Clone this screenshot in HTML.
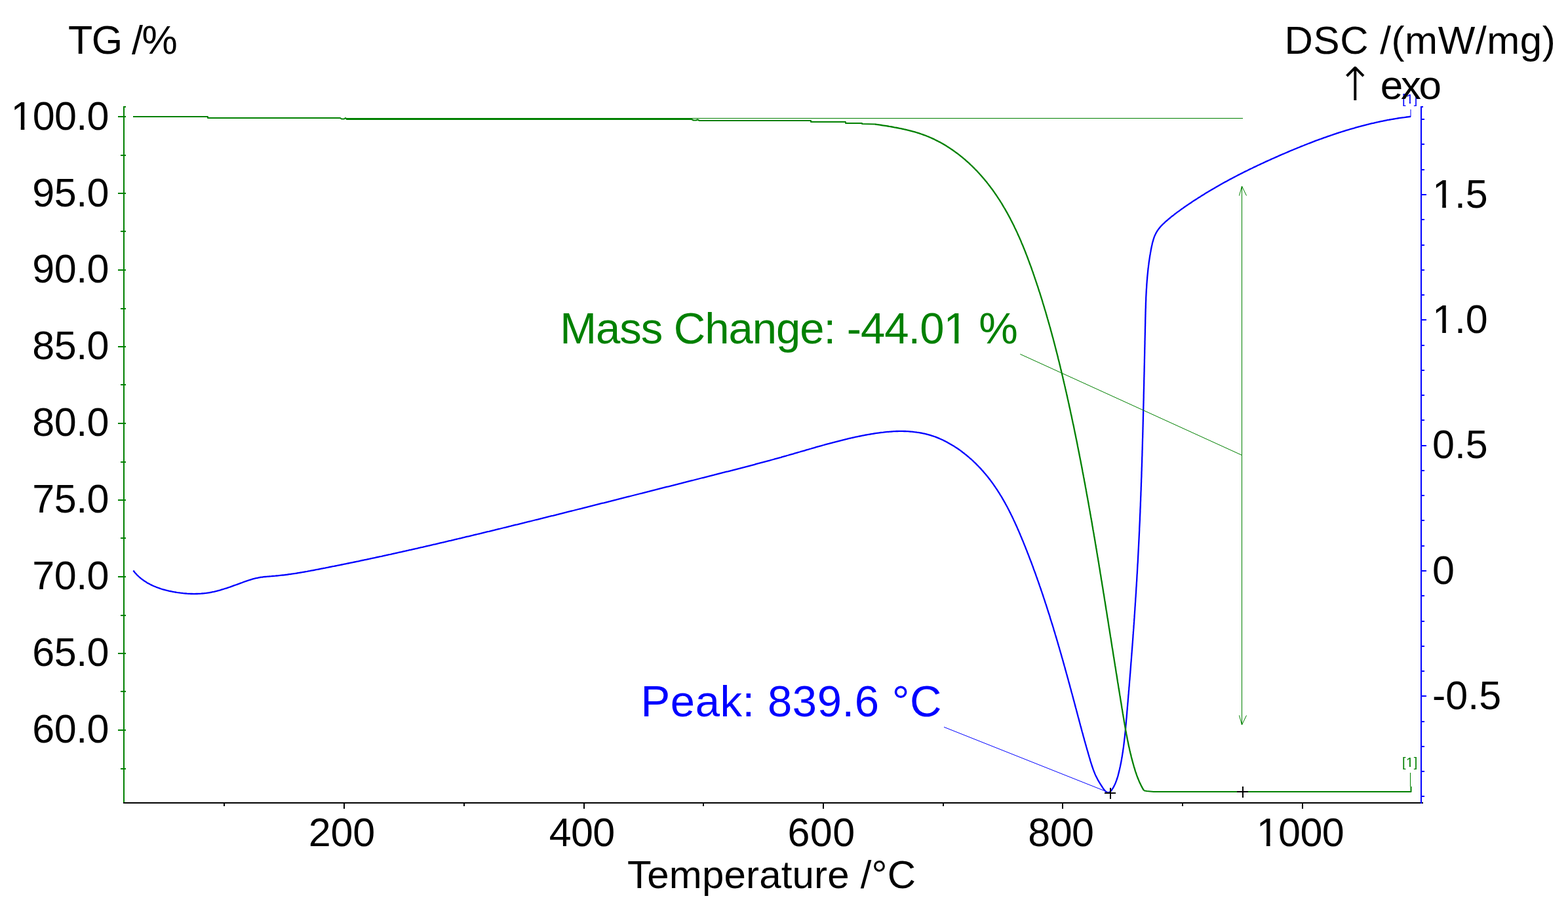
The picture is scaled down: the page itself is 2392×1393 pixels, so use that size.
<!DOCTYPE html>
<html><head><meta charset="utf-8"><title>TG-DSC</title>
<style>
html,body{margin:0;padding:0;background:#fff;width:2392px;height:1393px;overflow:hidden}
svg{display:block}
text{font-family:'Liberation Sans', Arial, sans-serif;}
</style></head><body>
<svg width="2392" height="1393" viewBox="0 0 2392 1393">
<rect width="2392" height="1393" fill="#fff"/>
<rect x="188" y="162" width="2" height="1064" fill="#008000"/>
<rect x="188" y="162" width="4" height="2" fill="#008000"/>
<rect x="180" y="177" width="12" height="2" fill="#008000"/>
<rect x="184" y="236" width="8" height="2" fill="#008000"/>
<rect x="180" y="294" width="12" height="2" fill="#008000"/>
<rect x="184" y="352" width="8" height="2" fill="#008000"/>
<rect x="180" y="411" width="12" height="2" fill="#008000"/>
<rect x="184" y="470" width="8" height="2" fill="#008000"/>
<rect x="180" y="528" width="12" height="2" fill="#008000"/>
<rect x="184" y="586" width="8" height="2" fill="#008000"/>
<rect x="180" y="645" width="12" height="2" fill="#008000"/>
<rect x="184" y="704" width="8" height="2" fill="#008000"/>
<rect x="180" y="762" width="12" height="2" fill="#008000"/>
<rect x="184" y="820" width="8" height="2" fill="#008000"/>
<rect x="180" y="879" width="12" height="2" fill="#008000"/>
<rect x="184" y="938" width="8" height="2" fill="#008000"/>
<rect x="180" y="996" width="12" height="2" fill="#008000"/>
<rect x="184" y="1054" width="8" height="2" fill="#008000"/>
<rect x="180" y="1113" width="12" height="2" fill="#008000"/>
<rect x="184" y="1172" width="8" height="2" fill="#008000"/>
<rect x="188" y="1224" width="1983" height="2" fill="#000"/>
<rect x="341" y="1226" width="2" height="4" fill="#000"/>
<rect x="524" y="1226" width="2" height="8" fill="#000"/>
<rect x="707" y="1226" width="2" height="4" fill="#000"/>
<rect x="890" y="1226" width="2" height="8" fill="#000"/>
<rect x="1072" y="1226" width="2" height="4" fill="#000"/>
<rect x="1255" y="1226" width="2" height="8" fill="#000"/>
<rect x="1438" y="1226" width="2" height="4" fill="#000"/>
<rect x="1620" y="1226" width="2" height="8" fill="#000"/>
<rect x="1803" y="1226" width="2" height="4" fill="#000"/>
<rect x="1986" y="1226" width="2" height="8" fill="#000"/>
<rect x="2167" y="162" width="2" height="1064" fill="#0000ff"/>
<rect x="2167" y="162" width="4" height="2" fill="#0000ff"/>
<rect x="2169" y="1214" width="4" height="2" fill="#0000ff"/>
<rect x="2169" y="1176" width="4" height="2" fill="#0000ff"/>
<rect x="2169" y="1138" width="4" height="2" fill="#0000ff"/>
<rect x="2169" y="1100" width="4" height="2" fill="#0000ff"/>
<rect x="2169" y="1061" width="7" height="2" fill="#0000ff"/>
<rect x="2169" y="1023" width="4" height="2" fill="#0000ff"/>
<rect x="2169" y="985" width="4" height="2" fill="#0000ff"/>
<rect x="2169" y="947" width="4" height="2" fill="#0000ff"/>
<rect x="2169" y="908" width="4" height="2" fill="#0000ff"/>
<rect x="2169" y="870" width="7" height="2" fill="#0000ff"/>
<rect x="2169" y="832" width="4" height="2" fill="#0000ff"/>
<rect x="2169" y="793" width="4" height="2" fill="#0000ff"/>
<rect x="2169" y="755" width="4" height="2" fill="#0000ff"/>
<rect x="2169" y="717" width="4" height="2" fill="#0000ff"/>
<rect x="2169" y="679" width="7" height="2" fill="#0000ff"/>
<rect x="2169" y="640" width="4" height="2" fill="#0000ff"/>
<rect x="2169" y="602" width="4" height="2" fill="#0000ff"/>
<rect x="2169" y="564" width="4" height="2" fill="#0000ff"/>
<rect x="2169" y="526" width="4" height="2" fill="#0000ff"/>
<rect x="2169" y="487" width="7" height="2" fill="#0000ff"/>
<rect x="2169" y="449" width="4" height="2" fill="#0000ff"/>
<rect x="2169" y="411" width="4" height="2" fill="#0000ff"/>
<rect x="2169" y="373" width="4" height="2" fill="#0000ff"/>
<rect x="2169" y="334" width="4" height="2" fill="#0000ff"/>
<rect x="2169" y="296" width="7" height="2" fill="#0000ff"/>
<rect x="2169" y="258" width="4" height="2" fill="#0000ff"/>
<rect x="2169" y="219" width="4" height="2" fill="#0000ff"/>
<rect x="2169" y="181" width="4" height="2" fill="#0000ff"/>
<polyline points="203.4,870.6 204.7,872.2 205.9,873.7 207.3,875.2 208.6,876.7 210.0,878.1 211.5,879.5 213.0,880.8 214.5,882.1 216.0,883.3 217.6,884.5 219.2,885.7 220.8,886.8 222.5,887.8 224.1,888.9 225.8,889.9 227.6,890.8 229.3,891.7 231.1,892.6 232.9,893.5 234.7,894.3 236.6,895.0 238.4,895.8 240.3,896.5 242.2,897.2 244.1,897.8 246.0,898.5 247.9,899.1 249.8,899.6 251.8,900.2 253.7,900.7 255.7,901.1 257.6,901.6 259.6,902.0 261.6,902.4 263.5,902.8 265.5,903.2 267.5,903.5 269.5,903.9 271.5,904.2 273.4,904.4 275.4,904.7 277.4,904.9 279.3,905.2 281.3,905.4 283.3,905.5 285.2,905.7 287.2,905.8 289.2,905.9 291.1,906.0 293.1,906.0 295.1,906.1 297.0,906.1 299.0,906.0 300.9,906.0 302.9,905.9 304.9,905.8 306.8,905.7 308.8,905.5 310.7,905.3 312.7,905.1 314.6,904.9 316.6,904.6 318.5,904.3 320.5,904.0 322.5,903.6 324.4,903.2 326.4,902.8 328.3,902.3 330.3,901.8 332.2,901.3 334.2,900.8 336.1,900.3 338.0,899.7 340.0,899.1 341.9,898.5 343.9,897.9 345.8,897.3 347.8,896.6 349.7,896.0 351.7,895.3 353.6,894.6 355.6,893.9 357.5,893.2 359.5,892.5 361.4,891.8 363.4,891.1 365.3,890.4 367.3,889.7 369.2,889.0 371.1,888.2 373.1,887.5 375.0,886.8 377.0,886.2 378.9,885.5 380.9,884.9 382.8,884.3 384.8,883.7 386.7,883.1 388.7,882.6 390.6,882.2 392.6,881.8 394.5,881.4 396.5,881.0 398.4,880.7 400.4,880.5 402.3,880.2 404.3,880.0 406.2,879.8 408.2,879.6 410.1,879.5 412.1,879.3 414.0,879.2 416.0,879.0 417.9,878.8 419.9,878.7 421.8,878.5 423.8,878.3 425.7,878.1 427.7,877.9 429.6,877.7 431.6,877.5 433.5,877.3 435.5,877.0 437.4,876.8 439.4,876.5 441.3,876.2 443.3,876.0 445.2,875.7 447.2,875.4 449.1,875.1 451.1,874.8 453.0,874.5 455.0,874.1 456.9,873.8 458.9,873.5 460.8,873.2 462.8,872.8 464.7,872.5 466.7,872.1 468.6,871.8 470.6,871.4 472.5,871.1 474.5,870.7 476.5,870.3 478.4,870.0 480.4,869.6 482.3,869.2 484.3,868.8 486.2,868.5 488.2,868.1 490.1,867.7 492.1,867.3 494.0,866.9 496.0,866.6 497.9,866.2 499.9,865.8 501.8,865.4 503.8,865.0 505.7,864.6 507.7,864.2 509.7,863.9 511.6,863.5 513.6,863.1 515.5,862.7 517.5,862.3 519.4,861.9 521.4,861.5 523.3,861.1 525.3,860.7 527.2,860.3 529.2,859.9 531.1,859.5 533.1,859.1 535.1,858.7 537.0,858.3 539.0,857.9 540.9,857.5 542.9,857.1 544.8,856.7 546.8,856.3 548.7,855.8 550.7,855.4 552.6,855.0 554.6,854.6 556.6,854.2 558.5,853.8 560.5,853.4 562.4,853.0 564.4,852.5 566.3,852.1 568.3,851.7 570.2,851.3 572.2,850.9 574.1,850.4 576.1,850.0 578.0,849.6 580.0,849.2 582.0,848.8 583.9,848.3 585.9,847.9 587.8,847.5 589.8,847.0 591.7,846.6 593.7,846.2 595.6,845.8 597.6,845.3 599.5,844.9 601.5,844.5 603.5,844.0 605.4,843.6 607.4,843.2 609.3,842.7 611.3,842.3 613.2,841.9 615.2,841.4 617.1,841.0 619.1,840.5 621.0,840.1 623.0,839.7 625.0,839.2 626.9,838.8 628.9,838.3 630.8,837.9 632.8,837.5 634.7,837.0 636.7,836.6 638.6,836.1 640.6,835.7 642.5,835.2 644.5,834.8 646.4,834.3 648.4,833.9 650.4,833.4 652.3,833.0 654.3,832.5 656.2,832.1 658.2,831.6 660.1,831.2 662.1,830.7 664.0,830.3 666.0,829.8 667.9,829.4 669.9,828.9 671.8,828.4 673.8,828.0 675.8,827.5 677.7,827.1 679.7,826.6 681.6,826.2 683.6,825.7 685.5,825.2 687.5,824.8 689.4,824.3 691.4,823.9 693.3,823.4 695.3,822.9 697.2,822.5 699.2,822.0 701.1,821.5 703.1,821.1 705.0,820.6 707.0,820.1 708.9,819.7 710.9,819.2 712.8,818.7 714.8,818.3 716.8,817.8 718.7,817.3 720.7,816.9 722.6,816.4 724.6,815.9 726.5,815.5 728.5,815.0 730.4,814.5 732.4,814.1 734.3,813.6 736.3,813.1 738.2,812.6 740.2,812.2 742.1,811.7 744.1,811.2 746.0,810.8 748.0,810.3 749.9,809.8 751.9,809.3 753.8,808.9 755.8,808.4 757.7,807.9 759.7,807.4 761.6,807.0 763.6,806.5 765.5,806.0 767.5,805.5 769.4,805.0 771.4,804.6 773.3,804.1 775.3,803.6 777.2,803.1 779.2,802.7 781.1,802.2 783.0,801.7 785.0,801.2 786.9,800.7 788.9,800.3 790.8,799.8 792.8,799.3 794.7,798.8 796.7,798.3 798.6,797.9 800.6,797.4 802.5,796.9 804.5,796.4 806.4,795.9 808.4,795.5 810.3,795.0 812.3,794.5 814.2,794.0 816.1,793.5 818.1,793.0 820.0,792.6 822.0,792.1 823.9,791.6 825.9,791.1 827.8,790.6 829.8,790.1 831.7,789.7 833.6,789.2 835.6,788.7 837.5,788.2 839.5,787.7 841.4,787.2 843.4,786.8 845.3,786.3 847.3,785.8 849.2,785.3 851.1,784.8 853.1,784.3 855.0,783.8 857.0,783.4 858.9,782.9 860.9,782.4 862.8,781.9 864.7,781.4 866.7,780.9 868.6,780.4 870.6,779.9 872.5,779.5 874.5,779.0 876.4,778.5 878.3,778.0 880.3,777.5 882.2,777.0 884.2,776.5 886.1,776.1 888.0,775.6 890.0,775.1 891.9,774.6 893.9,774.1 895.8,773.6 897.7,773.1 899.7,772.6 901.6,772.1 903.6,771.7 905.5,771.2 907.4,770.7 909.4,770.2 911.3,769.7 913.3,769.2 915.2,768.7 917.1,768.2 919.1,767.7 921.0,767.3 923.0,766.8 924.9,766.3 926.8,765.8 928.8,765.3 930.7,764.8 932.7,764.3 934.6,763.8 936.5,763.3 938.5,762.8 940.4,762.4 942.3,761.9 944.3,761.4 946.2,760.9 948.2,760.4 950.1,759.9 952.0,759.4 954.0,758.9 955.9,758.4 957.8,757.9 959.8,757.5 961.7,757.0 963.6,756.5 965.6,756.0 967.5,755.5 969.5,755.0 971.4,754.5 973.3,754.0 975.3,753.5 977.2,753.0 979.1,752.6 981.1,752.1 983.0,751.6 984.9,751.1 986.9,750.6 988.8,750.1 990.7,749.6 992.7,749.1 994.6,748.6 996.5,748.1 998.5,747.6 1000.4,747.2 1002.3,746.7 1004.3,746.2 1006.2,745.7 1008.1,745.2 1010.1,744.7 1012.0,744.2 1013.9,743.7 1015.9,743.2 1017.8,742.7 1019.7,742.3 1021.7,741.8 1023.6,741.3 1025.5,740.8 1027.5,740.3 1029.4,739.8 1031.3,739.3 1033.3,738.8 1035.2,738.3 1037.1,737.8 1039.1,737.4 1041.0,736.9 1042.9,736.4 1044.9,735.9 1046.8,735.4 1048.7,734.9 1050.6,734.4 1052.6,733.9 1054.5,733.4 1056.4,733.0 1058.4,732.5 1060.3,732.0 1062.2,731.5 1064.2,731.0 1066.1,730.5 1068.0,730.0 1069.9,729.5 1071.9,729.0 1073.8,728.6 1075.7,728.1 1077.7,727.6 1079.6,727.1 1081.5,726.6 1083.4,726.1 1085.4,725.6 1087.3,725.1 1089.2,724.7 1091.2,724.2 1093.1,723.7 1095.0,723.2 1096.9,722.7 1098.9,722.2 1100.8,721.7 1102.7,721.2 1104.7,720.7 1106.6,720.2 1108.5,719.7 1110.4,719.3 1112.4,718.8 1114.3,718.3 1116.2,717.8 1118.1,717.3 1120.1,716.8 1122.0,716.3 1123.9,715.8 1125.8,715.3 1127.8,714.8 1129.7,714.3 1131.6,713.8 1133.6,713.3 1135.5,712.8 1137.4,712.3 1139.3,711.8 1141.3,711.3 1143.2,710.8 1145.1,710.3 1147.0,709.8 1149.0,709.3 1150.9,708.8 1152.8,708.2 1154.7,707.7 1156.7,707.2 1158.6,706.7 1160.5,706.2 1162.4,705.7 1164.3,705.2 1166.3,704.6 1168.2,704.1 1170.1,703.6 1172.0,703.1 1174.0,702.6 1175.9,702.0 1177.8,701.5 1179.7,701.0 1181.7,700.4 1183.6,699.9 1185.5,699.4 1187.4,698.8 1189.3,698.3 1191.3,697.8 1193.2,697.2 1195.1,696.7 1197.0,696.1 1199.0,695.6 1200.9,695.0 1202.8,694.5 1204.7,693.9 1206.6,693.4 1208.6,692.8 1210.5,692.3 1212.4,691.7 1214.3,691.2 1216.3,690.6 1218.2,690.0 1220.1,689.5 1222.0,688.9 1223.9,688.4 1225.9,687.8 1227.8,687.3 1229.7,686.7 1231.6,686.1 1233.6,685.6 1235.5,685.0 1237.4,684.5 1239.3,683.9 1241.3,683.4 1243.2,682.8 1245.1,682.2 1247.1,681.7 1249.0,681.2 1250.9,680.6 1252.9,680.1 1254.8,679.5 1256.7,679.0 1258.7,678.4 1260.6,677.9 1262.5,677.4 1264.5,676.9 1266.4,676.3 1268.4,675.8 1270.3,675.3 1272.2,674.8 1274.2,674.3 1276.1,673.8 1278.1,673.3 1280.0,672.8 1282.0,672.3 1283.9,671.8 1285.9,671.3 1287.9,670.8 1289.8,670.3 1291.8,669.9 1293.7,669.4 1295.7,668.9 1297.7,668.5 1299.6,668.0 1301.6,667.6 1303.6,667.2 1305.5,666.7 1307.5,666.3 1309.5,665.9 1311.5,665.5 1313.5,665.1 1315.4,664.7 1317.4,664.3 1319.4,663.9 1321.4,663.5 1323.4,663.2 1325.4,662.8 1327.4,662.5 1329.4,662.1 1331.4,661.8 1333.4,661.5 1335.4,661.2 1337.4,660.9 1339.4,660.6 1341.4,660.3 1343.4,660.0 1345.4,659.8 1347.4,659.6 1349.4,659.3 1351.4,659.1 1353.4,658.9 1355.4,658.8 1357.4,658.6 1359.3,658.5 1361.3,658.3 1363.3,658.2 1365.3,658.1 1367.3,658.0 1369.3,658.0 1371.3,657.9 1373.3,657.9 1375.2,657.9 1377.2,657.9 1379.2,658.0 1381.2,658.0 1383.1,658.1 1385.1,658.2 1387.1,658.3 1389.0,658.5 1391.0,658.6 1392.9,658.8 1394.9,659.1 1396.8,659.3 1398.8,659.6 1400.7,659.8 1402.6,660.2 1404.5,660.5 1406.5,660.9 1408.4,661.3 1410.3,661.7 1412.2,662.1 1414.1,662.6 1416.0,663.1 1417.8,663.6 1419.7,664.2 1421.6,664.8 1423.4,665.4 1425.3,666.0 1427.2,666.7 1429.0,667.4 1430.8,668.1 1432.7,668.9 1434.5,669.7 1436.3,670.5 1438.1,671.3 1439.9,672.2 1441.7,673.1 1443.4,674.0 1445.2,674.9 1447.0,675.9 1448.7,676.9 1450.5,677.9 1452.2,678.9 1453.9,679.9 1455.6,681.0 1457.3,682.1 1459.0,683.2 1460.7,684.3 1462.4,685.5 1464.0,686.6 1465.7,687.8 1467.3,689.0 1468.9,690.3 1470.5,691.5 1472.1,692.8 1473.7,694.0 1475.3,695.3 1476.8,696.6 1478.4,698.0 1479.9,699.3 1481.5,700.7 1483.0,702.0 1484.5,703.4 1485.9,704.8 1487.4,706.2 1488.9,707.6 1490.3,709.1 1491.7,710.5 1493.1,712.0 1494.5,713.4 1495.9,714.9 1497.3,716.4 1498.6,717.9 1500.0,719.4 1501.3,720.9 1502.6,722.5 1503.9,724.0 1505.1,725.6 1506.4,727.1 1507.7,728.7 1508.9,730.2 1510.1,731.8 1511.3,733.4 1512.5,735.0 1513.7,736.6 1514.8,738.2 1516.0,739.9 1517.1,741.5 1518.3,743.1 1519.4,744.8 1520.5,746.4 1521.6,748.1 1522.7,749.8 1523.7,751.4 1524.8,753.1 1525.8,754.8 1526.9,756.5 1527.9,758.2 1528.9,759.9 1529.9,761.6 1530.9,763.4 1531.9,765.1 1532.9,766.8 1533.8,768.6 1534.8,770.3 1535.7,772.0 1536.7,773.8 1537.6,775.6 1538.5,777.3 1539.4,779.1 1540.3,780.9 1541.2,782.6 1542.1,784.4 1543.0,786.2 1543.9,788.0 1544.7,789.8 1545.6,791.6 1546.4,793.4 1547.3,795.2 1548.1,797.0 1548.9,798.8 1549.8,800.7 1550.6,802.5 1551.4,804.3 1552.2,806.1 1553.0,808.0 1553.8,809.8 1554.6,811.6 1555.4,813.5 1556.2,815.3 1556.9,817.2 1557.7,819.0 1558.5,820.8 1559.2,822.7 1560.0,824.5 1560.8,826.4 1561.5,828.2 1562.3,830.1 1563.0,832.0 1563.8,833.8 1564.5,835.7 1565.2,837.5 1566.0,839.4 1566.7,841.2 1567.4,843.1 1568.2,845.0 1568.9,846.8 1569.6,848.7 1570.3,850.6 1571.0,852.4 1571.7,854.3 1572.5,856.2 1573.2,858.0 1573.9,859.9 1574.6,861.8 1575.3,863.6 1576.0,865.5 1576.6,867.4 1577.3,869.3 1578.0,871.2 1578.7,873.0 1579.4,874.9 1580.1,876.8 1580.7,878.7 1581.4,880.6 1582.1,882.4 1582.7,884.3 1583.4,886.2 1584.1,888.1 1584.7,890.0 1585.4,891.9 1586.0,893.8 1586.7,895.6 1587.3,897.5 1588.0,899.4 1588.6,901.3 1589.3,903.2 1589.9,905.1 1590.6,907.0 1591.2,908.9 1591.8,910.8 1592.4,912.7 1593.1,914.6 1593.7,916.5 1594.3,918.4 1594.9,920.3 1595.6,922.2 1596.2,924.1 1596.8,926.0 1597.4,927.9 1598.0,929.8 1598.6,931.7 1599.2,933.6 1599.8,935.5 1600.5,937.4 1601.1,939.3 1601.7,941.2 1602.2,943.1 1602.8,945.1 1603.4,947.0 1604.0,948.9 1604.6,950.8 1605.2,952.7 1605.8,954.6 1606.4,956.5 1607.0,958.4 1607.5,960.3 1608.1,962.3 1608.7,964.2 1609.3,966.1 1609.8,968.0 1610.4,969.9 1611.0,971.8 1611.6,973.8 1612.1,975.7 1612.7,977.6 1613.3,979.5 1613.8,981.4 1614.4,983.4 1614.9,985.3 1615.5,987.2 1616.1,989.1 1616.6,991.0 1617.2,993.0 1617.7,994.9 1618.3,996.8 1618.8,998.7 1619.4,1000.7 1619.9,1002.6 1620.5,1004.5 1621.0,1006.4 1621.6,1008.4 1622.1,1010.3 1622.6,1012.2 1623.2,1014.1 1623.7,1016.1 1624.3,1018.0 1624.8,1019.9 1625.3,1021.9 1625.9,1023.8 1626.4,1025.7 1626.9,1027.6 1627.5,1029.6 1628.0,1031.5 1628.5,1033.4 1629.1,1035.4 1629.6,1037.3 1630.1,1039.2 1630.6,1041.2 1631.2,1043.1 1631.7,1045.0 1632.2,1046.9 1632.7,1048.9 1633.3,1050.8 1633.8,1052.7 1634.3,1054.7 1634.8,1056.6 1635.4,1058.5 1635.9,1060.5 1636.4,1062.4 1636.9,1064.3 1637.4,1066.3 1637.9,1068.2 1638.5,1070.1 1639.0,1072.1 1639.5,1074.0 1640.0,1075.9 1640.5,1077.9 1641.0,1079.8 1641.6,1081.7 1642.1,1083.7 1642.6,1085.6 1643.1,1087.5 1643.6,1089.5 1644.1,1091.4 1644.6,1093.3 1645.2,1095.3 1645.7,1097.2 1646.2,1099.1 1646.7,1101.1 1647.2,1103.0 1647.7,1104.9 1648.2,1106.8 1648.8,1108.8 1649.3,1110.7 1649.8,1112.6 1650.3,1114.6 1650.8,1116.5 1651.4,1118.4 1651.9,1120.3 1652.4,1122.3 1652.9,1124.2 1653.5,1126.1 1654.0,1128.0 1654.5,1130.0 1655.1,1131.9 1655.6,1133.8 1656.1,1135.7 1656.7,1137.6 1657.2,1139.5 1657.8,1141.5 1658.3,1143.4 1658.9,1145.3 1659.4,1147.2 1660.0,1149.1 1660.5,1151.0 1661.1,1152.9 1661.6,1154.8 1662.2,1156.7 1662.8,1158.6 1663.3,1160.6 1663.9,1162.5 1664.5,1164.3 1665.1,1166.2 1665.7,1168.1 1666.3,1170.0 1667.0,1171.9 1667.6,1173.7 1668.3,1175.6 1669.0,1177.4 1669.8,1179.3 1670.5,1181.1 1671.3,1182.9 1672.2,1184.7 1673.1,1186.5 1674.0,1188.3 1674.9,1190.1 1676.0,1191.9 1677.0,1193.7 1678.2,1195.6 1679.5,1197.6 1680.8,1199.7 1682.2,1201.9 1683.7,1204.0 1685.3,1206.0 1686.8,1207.6 1688.3,1208.8 1689.8,1209.3 1691.1,1209.3 1692.4,1208.8 1693.7,1207.9 1694.9,1206.7 1696.0,1205.2 1697.0,1203.7 1698.0,1202.1 1699.0,1200.4 1699.8,1198.7 1700.7,1196.9 1701.5,1195.1 1702.2,1193.3 1703.0,1191.4 1703.6,1189.5 1704.3,1187.5 1704.9,1185.6 1705.5,1183.6 1706.0,1181.6 1706.5,1179.6 1707.0,1177.6 1707.5,1175.5 1708.0,1173.5 1708.4,1171.5 1708.9,1169.4 1709.3,1167.4 1709.7,1165.4 1710.1,1163.4 1710.5,1161.4 1710.9,1159.3 1711.2,1157.3 1711.6,1155.3 1711.9,1153.3 1712.2,1151.3 1712.5,1149.3 1712.9,1147.3 1713.1,1145.3 1713.4,1143.3 1713.7,1141.3 1714.0,1139.3 1714.2,1137.3 1714.5,1135.3 1714.7,1133.3 1715.0,1131.3 1715.2,1129.3 1715.4,1127.3 1715.7,1125.3 1715.9,1123.4 1716.1,1121.4 1716.3,1119.4 1716.5,1117.4 1716.7,1115.4 1716.9,1113.4 1717.1,1111.4 1717.3,1109.5 1717.4,1107.5 1717.6,1105.5 1717.8,1103.5 1718.0,1101.5 1718.1,1099.5 1718.3,1097.6 1718.5,1095.6 1718.7,1093.6 1718.8,1091.6 1719.0,1089.6 1719.2,1087.6 1719.3,1085.7 1719.5,1083.7 1719.7,1081.7 1719.8,1079.7 1720.0,1077.7 1720.2,1075.7 1720.3,1073.8 1720.5,1071.8 1720.7,1069.8 1720.8,1067.8 1721.0,1065.8 1721.2,1063.8 1721.3,1061.8 1721.5,1059.9 1721.7,1057.9 1721.8,1055.9 1722.0,1053.9 1722.2,1051.9 1722.3,1049.9 1722.5,1047.9 1722.7,1046.0 1722.8,1044.0 1723.0,1042.0 1723.1,1040.0 1723.3,1038.0 1723.5,1036.0 1723.6,1034.0 1723.8,1032.0 1723.9,1030.1 1724.1,1028.1 1724.3,1026.1 1724.4,1024.1 1724.6,1022.1 1724.7,1020.1 1724.9,1018.1 1725.0,1016.1 1725.2,1014.1 1725.3,1012.2 1725.5,1010.2 1725.7,1008.2 1725.8,1006.2 1726.0,1004.2 1726.1,1002.2 1726.3,1000.2 1726.4,998.2 1726.6,996.2 1726.7,994.2 1726.9,992.2 1727.0,990.3 1727.2,988.3 1727.3,986.3 1727.5,984.3 1727.6,982.3 1727.8,980.3 1727.9,978.3 1728.1,976.3 1728.2,974.3 1728.4,972.3 1728.5,970.3 1728.6,968.3 1728.8,966.4 1728.9,964.4 1729.1,962.4 1729.2,960.4 1729.4,958.4 1729.5,956.4 1729.6,954.4 1729.8,952.4 1729.9,950.4 1730.1,948.4 1730.2,946.4 1730.3,944.4 1730.5,942.4 1730.6,940.4 1730.7,938.4 1730.9,936.5 1731.0,934.5 1731.1,932.5 1731.3,930.5 1731.4,928.5 1731.5,926.5 1731.7,924.5 1731.8,922.5 1731.9,920.5 1732.1,918.5 1732.2,916.5 1732.3,914.5 1732.4,912.5 1732.6,910.5 1732.7,908.5 1732.8,906.5 1733.0,904.5 1733.1,902.5 1733.2,900.5 1733.3,898.5 1733.4,896.5 1733.6,894.5 1733.7,892.6 1733.8,890.6 1733.9,888.6 1734.1,886.6 1734.2,884.6 1734.3,882.6 1734.4,880.6 1734.5,878.6 1734.6,876.6 1734.8,874.6 1734.9,872.6 1735.0,870.6 1735.1,868.6 1735.2,866.6 1735.3,864.6 1735.4,862.6 1735.5,860.6 1735.7,858.6 1735.8,856.6 1735.9,854.6 1736.0,852.6 1736.1,850.6 1736.2,848.6 1736.3,846.6 1736.4,844.6 1736.5,842.6 1736.6,840.6 1736.7,838.6 1736.8,836.6 1736.9,834.6 1737.0,832.6 1737.1,830.6 1737.2,828.6 1737.3,826.6 1737.4,824.6 1737.5,822.6 1737.6,820.6 1737.7,818.6 1737.8,816.6 1737.9,814.6 1738.0,812.6 1738.1,810.6 1738.2,808.6 1738.2,806.6 1738.3,804.6 1738.4,802.6 1738.5,800.6 1738.6,798.6 1738.7,796.6 1738.8,794.6 1738.9,792.6 1738.9,790.6 1739.0,788.6 1739.1,786.6 1739.2,784.6 1739.3,782.6 1739.4,780.7 1739.4,778.7 1739.5,776.7 1739.6,774.7 1739.7,772.7 1739.8,770.7 1739.8,768.7 1739.9,766.7 1740.0,764.7 1740.1,762.7 1740.1,760.7 1740.2,758.7 1740.3,756.7 1740.4,754.7 1740.4,752.7 1740.5,750.7 1740.6,748.7 1740.7,746.7 1740.7,744.7 1740.8,742.7 1740.9,740.7 1740.9,738.7 1741.0,736.7 1741.1,734.7 1741.1,732.7 1741.2,730.7 1741.3,728.7 1741.4,726.7 1741.4,724.7 1741.5,722.7 1741.5,720.7 1741.6,718.7 1741.7,716.7 1741.7,714.7 1741.8,712.7 1741.9,710.7 1741.9,708.7 1742.0,706.7 1742.1,704.7 1742.1,702.7 1742.2,700.7 1742.2,698.7 1742.3,696.7 1742.4,694.7 1742.4,692.7 1742.5,690.7 1742.5,688.7 1742.6,686.7 1742.7,684.7 1742.7,682.7 1742.8,680.7 1742.8,678.7 1742.9,676.7 1742.9,674.7 1743.0,672.7 1743.0,670.7 1743.1,668.7 1743.2,666.7 1743.2,664.7 1743.3,662.7 1743.3,660.7 1743.4,658.7 1743.4,656.7 1743.5,654.7 1743.5,652.7 1743.6,650.7 1743.6,648.7 1743.7,646.7 1743.7,644.7 1743.8,642.7 1743.8,640.7 1743.9,638.7 1743.9,636.7 1744.0,634.7 1744.0,632.7 1744.1,630.7 1744.1,628.7 1744.2,626.7 1744.2,624.7 1744.3,622.7 1744.3,620.7 1744.4,618.7 1744.4,616.7 1744.5,614.7 1744.5,612.7 1744.6,610.7 1744.6,608.7 1744.7,606.7 1744.7,604.7 1744.7,602.7 1744.8,600.7 1744.8,598.7 1744.9,596.7 1744.9,594.7 1745.0,592.7 1745.0,590.7 1745.1,588.7 1745.1,586.7 1745.2,584.7 1745.2,582.7 1745.2,580.7 1745.3,578.7 1745.3,576.7 1745.4,574.7 1745.4,572.7 1745.5,570.7 1745.5,568.7 1745.6,566.7 1745.6,564.7 1745.6,562.7 1745.7,560.7 1745.7,558.7 1745.8,556.7 1745.8,554.7 1745.9,552.7 1745.9,550.7 1745.9,548.8 1746.0,546.8 1746.0,544.8 1746.1,542.8 1746.1,540.8 1746.2,538.8 1746.2,536.8 1746.2,534.8 1746.3,532.8 1746.3,530.8 1746.4,528.8 1746.4,526.8 1746.5,524.8 1746.5,522.8 1746.5,520.8 1746.6,518.8 1746.6,516.8 1746.7,514.8 1746.7,512.8 1746.8,510.8 1746.8,508.8 1746.9,506.8 1746.9,504.9 1746.9,502.9 1747.0,500.9 1747.0,498.9 1747.1,496.9 1747.1,494.9 1747.2,492.9 1747.2,490.9 1747.2,488.9 1747.3,486.9 1747.3,484.9 1747.4,482.9 1747.4,480.9 1747.5,478.9 1747.5,476.9 1747.6,474.9 1747.6,473.0 1747.7,471.0 1747.8,469.0 1747.8,467.0 1747.9,465.0 1747.9,463.0 1748.0,461.0 1748.1,459.0 1748.2,457.0 1748.2,455.0 1748.3,453.0 1748.4,451.0 1748.5,449.0 1748.6,447.1 1748.7,445.1 1748.8,443.1 1748.9,441.1 1749.1,439.1 1749.2,437.1 1749.3,435.1 1749.4,433.1 1749.6,431.1 1749.7,429.1 1749.9,427.1 1750.1,425.1 1750.2,423.1 1750.4,421.1 1750.6,419.1 1750.8,417.2 1751.0,415.2 1751.2,413.2 1751.4,411.2 1751.6,409.2 1751.9,407.2 1752.1,405.2 1752.4,403.2 1752.6,401.2 1752.9,399.2 1753.2,397.2 1753.5,395.2 1753.8,393.2 1754.1,391.2 1754.4,389.2 1754.8,387.2 1755.1,385.2 1755.5,383.2 1755.8,381.2 1756.2,379.2 1756.6,377.2 1757.0,375.3 1757.5,373.3 1757.9,371.3 1758.4,369.3 1759.0,367.4 1759.5,365.5 1760.1,363.6 1760.8,361.7 1761.5,359.9 1762.3,358.1 1763.1,356.4 1764.1,354.7 1765.0,353.0 1766.1,351.4 1767.2,349.8 1768.4,348.3 1769.6,346.8 1770.9,345.3 1772.2,343.9 1773.6,342.5 1775.0,341.1 1776.5,339.8 1777.9,338.4 1779.4,337.1 1780.9,335.8 1782.4,334.5 1783.9,333.3 1785.5,332.0 1787.0,330.7 1788.6,329.5 1790.2,328.3 1791.7,327.0 1793.3,325.8 1794.9,324.6 1796.5,323.4 1798.2,322.3 1799.8,321.1 1801.4,319.9 1803.0,318.7 1804.7,317.6 1806.3,316.4 1807.9,315.3 1809.6,314.1 1811.2,313.0 1812.9,311.9 1814.5,310.8 1816.2,309.7 1817.9,308.5 1819.5,307.4 1821.2,306.3 1822.9,305.2 1824.5,304.2 1826.2,303.1 1827.9,302.0 1829.6,300.9 1831.3,299.9 1833.0,298.8 1834.7,297.7 1836.4,296.7 1838.1,295.6 1839.8,294.6 1841.5,293.6 1843.2,292.5 1844.9,291.5 1846.6,290.5 1848.3,289.5 1850.0,288.5 1851.8,287.5 1853.5,286.5 1855.2,285.5 1856.9,284.5 1858.7,283.5 1860.4,282.5 1862.1,281.5 1863.9,280.5 1865.6,279.6 1867.4,278.6 1869.1,277.6 1870.9,276.7 1872.6,275.7 1874.4,274.8 1876.1,273.8 1877.9,272.9 1879.6,272.0 1881.4,271.0 1883.2,270.1 1884.9,269.2 1886.7,268.3 1888.5,267.3 1890.3,266.4 1892.0,265.5 1893.8,264.6 1895.6,263.7 1897.4,262.8 1899.2,261.9 1901.0,261.0 1902.8,260.2 1904.5,259.3 1906.3,258.4 1908.1,257.5 1909.9,256.7 1911.7,255.8 1913.5,254.9 1915.3,254.1 1917.1,253.2 1918.9,252.3 1920.8,251.5 1922.6,250.6 1924.4,249.8 1926.2,249.0 1928.0,248.1 1929.8,247.3 1931.6,246.4 1933.5,245.6 1935.3,244.8 1937.1,244.0 1938.9,243.1 1940.7,242.3 1942.6,241.5 1944.4,240.7 1946.2,239.9 1948.1,239.1 1949.9,238.3 1951.7,237.4 1953.6,236.6 1955.4,235.8 1957.2,235.0 1959.1,234.3 1960.9,233.5 1962.8,232.7 1964.6,231.9 1966.4,231.1 1968.3,230.3 1970.1,229.5 1972.0,228.8 1973.8,228.0 1975.7,227.2 1977.5,226.5 1979.4,225.7 1981.3,225.0 1983.1,224.2 1985.0,223.4 1986.8,222.7 1988.7,222.0 1990.5,221.2 1992.4,220.5 1994.3,219.7 1996.1,219.0 1998.0,218.3 1999.9,217.6 2001.7,216.9 2003.6,216.1 2005.5,215.4 2007.4,214.7 2009.2,214.0 2011.1,213.3 2013.0,212.6 2014.9,212.0 2016.8,211.3 2018.6,210.6 2020.5,209.9 2022.4,209.3 2024.3,208.6 2026.2,207.9 2028.1,207.3 2030.0,206.6 2031.9,206.0 2033.8,205.3 2035.7,204.7 2037.6,204.1 2039.4,203.4 2041.3,202.8 2043.3,202.2 2045.2,201.6 2047.1,201.0 2049.0,200.4 2050.9,199.8 2052.8,199.2 2054.7,198.6 2056.6,198.1 2058.5,197.5 2060.4,196.9 2062.4,196.4 2064.3,195.8 2066.2,195.3 2068.1,194.7 2070.0,194.2 2072.0,193.6 2073.9,193.1 2075.8,192.6 2077.7,192.1 2079.7,191.6 2081.6,191.1 2083.5,190.6 2085.5,190.1 2087.4,189.6 2089.3,189.2 2091.3,188.7 2093.2,188.2 2095.2,187.8 2097.1,187.3 2099.1,186.9 2101.0,186.5 2103.0,186.0 2104.9,185.6 2106.9,185.2 2108.8,184.8 2110.8,184.4 2112.7,184.0 2114.7,183.6 2116.6,183.2 2118.6,182.9 2120.6,182.5 2122.5,182.2 2124.5,181.8 2126.5,181.5 2128.4,181.2 2130.4,180.8 2132.4,180.5 2134.4,180.2 2136.3,179.9 2138.3,179.6 2140.3,179.3 2142.3,179.1 2144.3,178.8 2146.2,178.5 2148.2,178.3 2150.2,178.0 2152.2,177.8" fill="none" stroke="#0000ff" stroke-width="2.3" stroke-linejoin="round"/>
<line x1="2152" y1="177.8" x2="2152" y2="167" stroke="#0000ff" stroke-width="1"/>
<line x1="1440.1" y1="1109.3" x2="1693.5" y2="1210" stroke="#0000ff" stroke-width="1"/>
<rect x="1685" y="1209" width="17" height="2" fill="#000"/>
<rect x="1693" y="1202" width="2" height="17" fill="#000"/>
<polyline points="203.0,178.0 317.0,178.0 317.0,180.0 519.0,180.0 521.0,181.5 525.0,181.5 527.0,180.0 529.0,182.0 1055.0,182.0 1058.0,183.5 1062.0,183.5 1064.0,182.5 1067.0,184.0 1237.0,184.0 1237.0,186.0 1290.0,186.0 1290.0,188.0 1315.0,188.0 1315.0,189.0 1335.0,189.5" fill="none" stroke="#008000" stroke-width="2" stroke-linejoin="round"/>
<polyline points="1335.0,189.5 1336.9,189.8 1338.9,190.1 1340.8,190.4 1342.7,190.7 1344.7,191.0 1346.6,191.3 1348.6,191.6 1350.6,191.9 1352.5,192.2 1354.5,192.5 1356.5,192.9 1358.4,193.2 1360.4,193.5 1362.4,193.9 1364.4,194.3 1366.4,194.6 1368.3,195.0 1370.3,195.4 1372.3,195.8 1374.3,196.2 1376.2,196.6 1378.2,197.0 1380.2,197.5 1382.1,197.9 1384.1,198.4 1386.1,198.8 1388.0,199.3 1390.0,199.8 1391.9,200.4 1393.8,200.9 1395.8,201.4 1397.7,202.0 1399.6,202.6 1401.5,203.2 1403.5,203.8 1405.4,204.5 1407.2,205.1 1409.1,205.8 1411.0,206.5 1412.9,207.2 1414.7,208.0 1416.6,208.7 1418.4,209.5 1420.2,210.3 1422.0,211.1 1423.8,211.9 1425.6,212.8 1427.4,213.7 1429.2,214.6 1431.0,215.5 1432.7,216.4 1434.5,217.3 1436.2,218.3 1438.0,219.3 1439.7,220.3 1441.4,221.3 1443.1,222.3 1444.8,223.4 1446.5,224.4 1448.1,225.5 1449.8,226.6 1451.4,227.7 1453.1,228.8 1454.7,230.0 1456.3,231.1 1457.9,232.3 1459.5,233.5 1461.1,234.7 1462.7,235.9 1464.3,237.1 1465.8,238.4 1467.4,239.6 1468.9,240.9 1470.4,242.2 1472.0,243.4 1473.5,244.8 1475.0,246.1 1476.4,247.4 1477.9,248.7 1479.4,250.1 1480.8,251.5 1482.3,252.8 1483.7,254.2 1485.1,255.6 1486.5,257.0 1487.9,258.5 1489.3,259.9 1490.7,261.3 1492.0,262.8 1493.4,264.2 1494.7,265.7 1496.1,267.2 1497.4,268.7 1498.7,270.2 1500.0,271.7 1501.3,273.2 1502.5,274.7 1503.8,276.3 1505.1,277.8 1506.3,279.4 1507.5,280.9 1508.7,282.5 1509.9,284.0 1511.1,285.6 1512.3,287.2 1513.5,288.8 1514.7,290.4 1515.8,292.0 1517.0,293.6 1518.1,295.3 1519.2,296.9 1520.3,298.5 1521.4,300.2 1522.5,301.8 1523.6,303.5 1524.7,305.2 1525.8,306.8 1526.8,308.5 1527.9,310.2 1528.9,311.9 1529.9,313.6 1530.9,315.3 1531.9,317.0 1533.0,318.7 1533.9,320.4 1534.9,322.2 1535.9,323.9 1536.9,325.6 1537.8,327.4 1538.8,329.1 1539.7,330.9 1540.7,332.6 1541.6,334.4 1542.5,336.2 1543.4,337.9 1544.3,339.7 1545.2,341.5 1546.1,343.3 1547.0,345.1 1547.8,346.9 1548.7,348.7 1549.6,350.5 1550.4,352.3 1551.3,354.1 1552.1,355.9 1552.9,357.8 1553.7,359.6 1554.6,361.4 1555.4,363.3 1556.2,365.1 1557.0,366.9 1557.8,368.8 1558.5,370.6 1559.3,372.5 1560.1,374.3 1560.9,376.2 1561.6,378.0 1562.4,379.9 1563.1,381.8 1563.9,383.6 1564.6,385.5 1565.3,387.4 1566.1,389.3 1566.8,391.1 1567.5,393.0 1568.2,394.9 1568.9,396.8 1569.6,398.7 1570.3,400.6 1571.0,402.5 1571.7,404.4 1572.4,406.2 1573.1,408.1 1573.8,410.0 1574.4,411.9 1575.1,413.8 1575.8,415.7 1576.4,417.6 1577.1,419.5 1577.7,421.4 1578.4,423.4 1579.0,425.3 1579.7,427.2 1580.3,429.1 1581.0,431.0 1581.6,432.9 1582.2,434.8 1582.9,436.7 1583.5,438.6 1584.1,440.5 1584.7,442.4 1585.3,444.3 1586.0,446.2 1586.6,448.2 1587.2,450.1 1587.8,452.0 1588.4,453.9 1589.0,455.8 1589.6,457.7 1590.2,459.6 1590.7,461.5 1591.3,463.5 1591.9,465.4 1592.5,467.3 1593.1,469.2 1593.6,471.1 1594.2,473.0 1594.8,475.0 1595.4,476.9 1595.9,478.8 1596.5,480.7 1597.0,482.6 1597.6,484.6 1598.1,486.5 1598.7,488.4 1599.2,490.3 1599.8,492.2 1600.3,494.2 1600.9,496.1 1601.4,498.0 1602.0,499.9 1602.5,501.9 1603.0,503.8 1603.5,505.7 1604.1,507.6 1604.6,509.6 1605.1,511.5 1605.6,513.4 1606.2,515.3 1606.7,517.3 1607.2,519.2 1607.7,521.1 1608.2,523.0 1608.7,525.0 1609.2,526.9 1609.7,528.8 1610.2,530.8 1610.7,532.7 1611.2,534.6 1611.7,536.6 1612.2,538.5 1612.7,540.4 1613.2,542.4 1613.7,544.3 1614.1,546.2 1614.6,548.2 1615.1,550.1 1615.6,552.0 1616.1,554.0 1616.5,555.9 1617.0,557.8 1617.5,559.8 1617.9,561.7 1618.4,563.6 1618.9,565.6 1619.3,567.5 1619.8,569.4 1620.3,571.4 1620.7,573.3 1621.2,575.3 1621.6,577.2 1622.1,579.1 1622.5,581.1 1623.0,583.0 1623.4,585.0 1623.9,586.9 1624.3,588.8 1624.8,590.8 1625.2,592.7 1625.7,594.7 1626.1,596.6 1626.6,598.5 1627.0,600.5 1627.4,602.4 1627.9,604.4 1628.3,606.3 1628.7,608.3 1629.2,610.2 1629.6,612.1 1630.0,614.1 1630.5,616.0 1630.9,618.0 1631.3,619.9 1631.7,621.9 1632.2,623.8 1632.6,625.8 1633.0,627.7 1633.4,629.7 1633.8,631.6 1634.3,633.6 1634.7,635.5 1635.1,637.5 1635.5,639.4 1635.9,641.3 1636.3,643.3 1636.7,645.2 1637.2,647.2 1637.6,649.1 1638.0,651.1 1638.4,653.0 1638.8,655.0 1639.2,656.9 1639.6,658.9 1640.0,660.9 1640.4,662.8 1640.8,664.8 1641.2,666.7 1641.6,668.7 1642.0,670.6 1642.4,672.6 1642.8,674.5 1643.2,676.5 1643.6,678.4 1643.9,680.4 1644.3,682.3 1644.7,684.3 1645.1,686.2 1645.5,688.2 1645.9,690.2 1646.3,692.1 1646.6,694.1 1647.0,696.0 1647.4,698.0 1647.8,699.9 1648.2,701.9 1648.6,703.8 1648.9,705.8 1649.3,707.8 1649.7,709.7 1650.1,711.7 1650.4,713.6 1650.8,715.6 1651.2,717.6 1651.5,719.5 1651.9,721.5 1652.3,723.4 1652.7,725.4 1653.0,727.4 1653.4,729.3 1653.8,731.3 1654.1,733.2 1654.5,735.2 1654.9,737.2 1655.2,739.1 1655.6,741.1 1655.9,743.0 1656.3,745.0 1656.7,747.0 1657.0,748.9 1657.4,750.9 1657.7,752.9 1658.1,754.8 1658.4,756.8 1658.8,758.7 1659.2,760.7 1659.5,762.7 1659.9,764.6 1660.2,766.6 1660.6,768.6 1660.9,770.5 1661.3,772.5 1661.6,774.5 1662.0,776.4 1662.3,778.4 1662.7,780.3 1663.0,782.3 1663.3,784.3 1663.7,786.2 1664.0,788.2 1664.4,790.2 1664.7,792.1 1665.1,794.1 1665.4,796.1 1665.8,798.0 1666.1,800.0 1666.4,802.0 1666.8,803.9 1667.1,805.9 1667.4,807.9 1667.8,809.9 1668.1,811.8 1668.5,813.8 1668.8,815.8 1669.1,817.7 1669.5,819.7 1669.8,821.7 1670.1,823.6 1670.5,825.6 1670.8,827.6 1671.1,829.5 1671.5,831.5 1671.8,833.5 1672.1,835.4 1672.5,837.4 1672.8,839.4 1673.1,841.4 1673.4,843.3 1673.8,845.3 1674.1,847.3 1674.4,849.2 1674.8,851.2 1675.1,853.2 1675.4,855.2 1675.7,857.1 1676.1,859.1 1676.4,861.1 1676.7,863.0 1677.0,865.0 1677.4,867.0 1677.7,869.0 1678.0,870.9 1678.3,872.9 1678.6,874.9 1679.0,876.9 1679.3,878.8 1679.6,880.8 1679.9,882.8 1680.2,884.7 1680.6,886.7 1680.9,888.7 1681.2,890.7 1681.5,892.6 1681.8,894.6 1682.2,896.6 1682.5,898.6 1682.8,900.5 1683.1,902.5 1683.4,904.5 1683.8,906.5 1684.1,908.4 1684.4,910.4 1684.7,912.4 1685.0,914.4 1685.3,916.3 1685.7,918.3 1686.0,920.3 1686.3,922.3 1686.6,924.2 1686.9,926.2 1687.2,928.2 1687.5,930.2 1687.9,932.1 1688.2,934.1 1688.5,936.1 1688.8,938.1 1689.1,940.0 1689.4,942.0 1689.8,944.0 1690.1,946.0 1690.4,947.9 1690.7,949.9 1691.0,951.9 1691.3,953.9 1691.6,955.9 1691.9,957.8 1692.3,959.8 1692.6,961.8 1692.9,963.8 1693.2,965.7 1693.5,967.7 1693.8,969.7 1694.1,971.7 1694.5,973.6 1694.8,975.6 1695.1,977.6 1695.4,979.6 1695.7,981.6 1696.0,983.5 1696.3,985.5 1696.6,987.5 1697.0,989.5 1697.3,991.4 1697.6,993.4 1697.9,995.4 1698.2,997.4 1698.5,999.4 1698.8,1001.3 1699.2,1003.3 1699.5,1005.3 1699.8,1007.3 1700.1,1009.2 1700.4,1011.2 1700.7,1013.2 1701.0,1015.2 1701.4,1017.2 1701.7,1019.1 1702.0,1021.1 1702.3,1023.1 1702.6,1025.1 1702.9,1027.0 1703.3,1029.0 1703.6,1031.0 1703.9,1033.0 1704.2,1035.0 1704.5,1036.9 1704.8,1038.9 1705.1,1040.9 1705.5,1042.9 1705.8,1044.8 1706.1,1046.8 1706.4,1048.8 1706.7,1050.8 1707.1,1052.8 1707.4,1054.7 1707.7,1056.7 1708.0,1058.7 1708.3,1060.7 1708.7,1062.6 1709.0,1064.6 1709.3,1066.6 1709.6,1068.6 1709.9,1070.6 1710.3,1072.5 1710.6,1074.5 1710.9,1076.5 1711.2,1078.5 1711.5,1080.5 1711.9,1082.4 1712.2,1084.4 1712.5,1086.4 1712.8,1088.4 1713.2,1090.3 1713.5,1092.3 1713.8,1094.3 1714.2,1096.3 1714.5,1098.2 1714.8,1100.2 1715.2,1102.2 1715.5,1104.2 1715.8,1106.1 1716.2,1108.1 1716.5,1110.1 1716.9,1112.0 1717.2,1114.0 1717.6,1116.0 1718.0,1117.9 1718.3,1119.9 1718.7,1121.9 1719.1,1123.8 1719.4,1125.8 1719.8,1127.7 1720.2,1129.7 1720.6,1131.6 1721.0,1133.6 1721.4,1135.5 1721.8,1137.4 1722.2,1139.4 1722.7,1141.3 1723.1,1143.2 1723.5,1145.2 1724.0,1147.1 1724.4,1149.0 1724.9,1150.9 1725.4,1152.8 1725.8,1154.7 1726.3,1156.6 1726.8,1158.5 1727.3,1160.4 1727.8,1162.3 1728.3,1164.2 1728.9,1166.1 1729.4,1168.0 1729.9,1169.8 1730.5,1171.7 1731.1,1173.6 1731.6,1175.4 1732.2,1177.3 1732.9,1179.1 1733.5,1181.0 1734.1,1182.8 1734.8,1184.7 1735.5,1186.5 1736.2,1188.3 1737.0,1190.1 1737.7,1191.9 1738.5,1193.7 1739.4,1195.5 1740.2,1197.3 1741.1,1199.1 1742.1,1200.9 1743.0,1202.7 1744.0,1204.4 1745.1,1206.2" fill="none" stroke="#008000" stroke-width="2.3" stroke-linejoin="round"/>
<polyline points="1745.1,1206.2 1749.5,1206.9 1754.5,1207.4 1760.0,1208.0 2152.5,1208.0 2152.5,1200.0" fill="none" stroke="#008000" stroke-width="2" stroke-linejoin="round"/>
<line x1="2151.5" y1="1200" x2="2151.5" y2="1179" stroke="#008000" stroke-width="1"/>
<line x1="528" y1="180.5" x2="1896" y2="180.5" stroke="#008000" stroke-width="1"/>
<line x1="1894.5" y1="284" x2="1894.5" y2="1106" stroke="#008000" stroke-width="1"/>
<polyline points="1890.5,298.5 1894.5,284.0 1901.5,298.5" fill="none" stroke="#008000" stroke-width="1" stroke-linejoin="round" stroke-linejoin="miter"/>
<polyline points="1890.5,1091.5 1894.5,1106.0 1901.5,1091.5" fill="none" stroke="#008000" stroke-width="1" stroke-linejoin="round" stroke-linejoin="miter"/>
<line x1="1556.3" y1="540.3" x2="1894.5" y2="694.5" stroke="#008000" stroke-width="1"/>
<rect x="1887" y="1207" width="17" height="2" fill="#000"/>
<rect x="1895" y="1200" width="2" height="17" fill="#000"/>
<text x="2139.00" y="157.70" font-size="20" fill="#0000ff" textLength="23.25" lengthAdjust="spacing">[1]</text>
<rect x="2145.79" y="155.71" width="4.21" height="2.99" fill="#fff"/>
<rect x="2151.96" y="155.71" width="4.05" height="2.99" fill="#fff"/>
<text x="2139.00" y="1170.00" font-size="20" fill="#008000" textLength="23.25" lengthAdjust="spacing">[1]</text>
<rect x="2145.79" y="1168.01" width="4.21" height="2.99" fill="#fff"/>
<rect x="2151.96" y="1168.01" width="4.05" height="2.99" fill="#fff"/>
<text x="104.00" y="82.00" font-size="61" fill="#000" textLength="166.66" lengthAdjust="spacing">TG /%</text>
<text x="1959.60" y="81.50" font-size="60" fill="#000" textLength="413.03" lengthAdjust="spacing">DSC /(mW/mg)</text>
<text x="2036.40" y="154" font-size="73" style="font-family:'DejaVu Sans', sans-serif" fill="#000" stroke="#fff" stroke-width="2">↑</text>
<text x="2105.80" y="150.80" font-size="62" fill="#000" textLength="93.17" lengthAdjust="spacing">exo</text>
<text x="16.50" y="197.60" font-size="61" fill="#000" textLength="149.94" lengthAdjust="spacing">100.0</text>
<rect x="20.35" y="192.54" width="11.39" height="6.06" fill="#fff"/>
<rect x="37.33" y="192.54" width="10.92" height="6.06" fill="#fff"/>
<text x="49.30" y="314.60" font-size="61" fill="#000" textLength="117.22" lengthAdjust="spacing">95.0</text>
<text x="49.30" y="431.00" font-size="61" fill="#000" textLength="117.22" lengthAdjust="spacing">90.0</text>
<text x="49.30" y="548.00" font-size="61" fill="#000" textLength="117.22" lengthAdjust="spacing">85.0</text>
<text x="49.30" y="665.00" font-size="61" fill="#000" textLength="117.22" lengthAdjust="spacing">80.0</text>
<text x="49.30" y="782.00" font-size="61" fill="#000" textLength="117.22" lengthAdjust="spacing">75.0</text>
<text x="49.30" y="899.00" font-size="61" fill="#000" textLength="117.22" lengthAdjust="spacing">70.0</text>
<text x="49.30" y="1016.00" font-size="61" fill="#000" textLength="117.22" lengthAdjust="spacing">65.0</text>
<text x="49.30" y="1133.00" font-size="61" fill="#000" textLength="117.22" lengthAdjust="spacing">60.0</text>
<text x="470.80" y="1290.50" font-size="61" fill="#000" textLength="101.37" lengthAdjust="spacing">200</text>
<text x="837.70" y="1290.50" font-size="61" fill="#000" textLength="100.57" lengthAdjust="spacing">400</text>
<text x="1201.50" y="1290.50" font-size="61" fill="#000" textLength="102.57" lengthAdjust="spacing">600</text>
<text x="1568.30" y="1290.50" font-size="61" fill="#000" textLength="100.67" lengthAdjust="spacing">800</text>
<text x="1916.70" y="1290.50" font-size="61" fill="#000" textLength="133.99" lengthAdjust="spacing">1000</text>
<rect x="1920.55" y="1285.44" width="11.39" height="6.06" fill="#fff"/>
<rect x="1937.53" y="1285.44" width="10.92" height="6.06" fill="#fff"/>
<text x="2185" y="316.60" font-size="61" fill="#000">1.5</text>
<rect x="2188.85" y="311.54" width="11.39" height="6.06" fill="#fff"/>
<rect x="2205.83" y="311.54" width="10.92" height="6.06" fill="#fff"/>
<text x="2185" y="507.93" font-size="61" fill="#000">1.0</text>
<rect x="2188.85" y="502.87" width="11.39" height="6.06" fill="#fff"/>
<rect x="2205.83" y="502.87" width="10.92" height="6.06" fill="#fff"/>
<text x="2185" y="699.26" font-size="61" fill="#000">0.5</text>
<text x="2185" y="890.60" font-size="61" fill="#000">0</text>
<text x="2185" y="1081.93" font-size="61" fill="#000">-0.5</text>
<text x="957.00" y="1355.20" font-size="60" fill="#000" textLength="440.05" lengthAdjust="spacing">Temperature /°C</text>
<text x="854.20" y="524.30" font-size="67" fill="#008000" textLength="698.70" lengthAdjust="spacing">Mass Change: -44.01 %</text>
<rect x="1443.75" y="518.79" width="12.44" height="6.51" fill="#fff"/>
<rect x="1462.32" y="518.79" width="11.92" height="6.51" fill="#fff"/>
<text x="977.60" y="1093.10" font-size="67" fill="#0000ff" textLength="458.91" lengthAdjust="spacing">Peak: 839.6 °C</text>
</svg>
</body></html>
